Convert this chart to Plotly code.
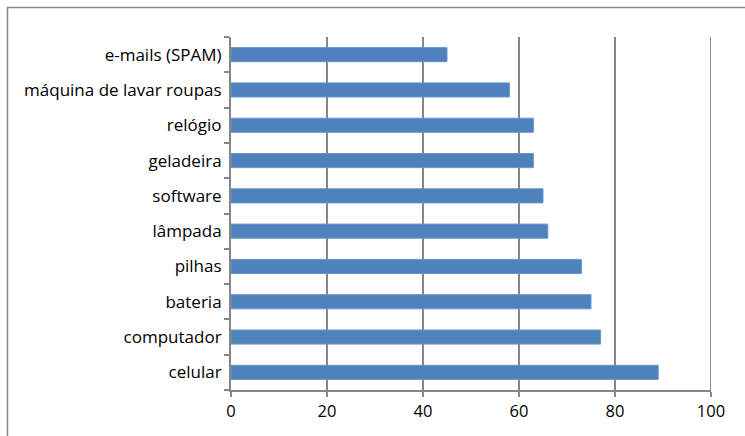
import plotly.graph_objects as go

# Categories listed from bottom to top of the chart
categorias = ["celular", "computador", "bateria", "pilhas", "lâmpada",
              "software", "geladeira", "relógio", "máquina de lavar roupas",
              "e-mails (SPAM)"]
valores = [89, 77, 75, 73, 66, 65, 63, 63, 58, 45]
x_ticks = [0, 20, 40, 60, 80, 100]

W, H = 745, 436
L, R, T, B = 231, 34, 37, 46
pw, ph = W - L - R, H - T - B

grey = "#868686"
fonte_y = dict(family="'Open Sans', Lato, sans-serif", size=17, color="#000000")
fonte_x = dict(family="'Open Sans', Lato, sans-serif", size=16.5, color="#000000")

fig = go.Figure(go.Bar(
    x=valores, y=categorias, orientation="h",
    marker=dict(color="#4f81bd", line=dict(color="#6a95c9", width=1)),
))

fig.update_layout(
    width=W, height=H,
    margin=dict(l=L, r=R, t=T, b=B, pad=0),
    paper_bgcolor="white", plot_bgcolor="white",
    bargap=0.6, showlegend=False,
    xaxis=dict(range=[0, 100], tickvals=x_ticks, showgrid=True,
               gridcolor=grey, gridwidth=2, zeroline=False,
               showline=True, linecolor=grey, linewidth=2,
               ticks="outside", ticklen=5, tickcolor=grey, tickwidth=2,
               tickfont=fonte_x, fixedrange=True),
    yaxis=dict(type="category", categoryorder="array", categoryarray=categorias,
               tickson="boundaries", ticks="outside", ticklen=5,
               tickcolor=grey, tickwidth=2, showgrid=False,
               showline=True, linecolor=grey, linewidth=2,
               ticklabelstandoff=4, tickfont=fonte_y, fixedrange=True),
)

# Last vertical gridline, sitting on the right edge of the plot area
fig.add_shape(type="line", xref="x", yref="paper",
              x0=x_ticks[-1], x1=x_ticks[-1], y0=0, y1=1,
              line=dict(color=grey, width=2), layer="below")

# Outer chart frame
fig.add_shape(type="rect", xref="paper", yref="paper",
              x0=(7.5 - L) / pw, x1=(W + 10 - L) / pw,
              y0=-(H + 10 - T - ph) / ph, y1=(H - B - 7.5) / ph,
              line=dict(color=grey, width=1.5), layer="below")

fig.write_html("out.html")
